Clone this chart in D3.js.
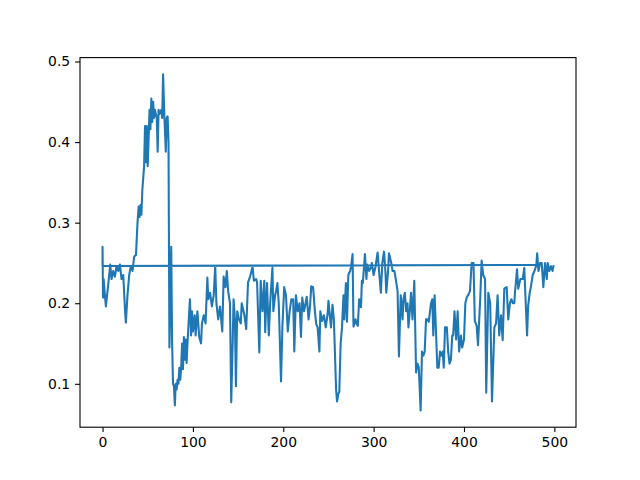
<!DOCTYPE html>
<html>
<head>
<meta charset="utf-8">
<script src="https://cdn.jsdelivr.net/npm/d3@7"></script>
<style>
  html, body { margin: 0; padding: 0; background: #fff; }
  text { font-family: "DejaVu Sans", sans-serif; }
</style>
</head>
<body>
<svg id="chart" width="640" height="480"></svg>
<script>
// Sample positions (x) and values (y), in drawing order.
const xValues = [480, 0,
  0, 0.5, 1.2, 2.6, 3.7, 5.5, 7.4, 8.5, 10, 11.8, 13.7, 15.5, 17.4, 19.2, 21, 22.9, 24.7, 25.8, 27.6, 29.5, 31.3, 33.2, 35, 37, 38.7,
  40, 41, 42, 43, 44, 46, 47, 48, 49, 50, 52, 53, 54, 55, 56, 57, 58, 60, 61, 62, 63, 65, 66, 67, 68.5, 70, 71, 72, 73, 74, 75, 76, 77, 78, 79,
  80, 81, 82, 83, 84, 85, 86, 87, 88, 89, 90, 91, 92, 93, 94, 96.7, 98, 99, 100, 102, 103, 105, 107, 109, 110, 112, 114, 116, 117, 119,
  121, 123, 124.7, 126, 128, 130, 132.5, 134, 136, 137.5, 139, 141, 142.4, 144, 145, 146.5, 147.6, 149, 151, 153, 154, 156, 157, 159,
  161, 163, 166, 167.5, 170, 171, 173.5, 175, 177, 179, 180, 182, 184, 185.5, 188, 189, 191, 192, 193.5, 195, 197.5, 199,
  201, 203, 205, 207, 209, 211, 212.2, 214, 216, 218, 219.6, 221, 223, 226, 228, 229.5, 231, 233, 235, 236.5, 238, 240,
  241, 243, 245, 247, 249, 250, 252.8, 254.5, 256, 258.5, 259.5, 261, 262, 263.5, 265, 266.6, 267.5, 269.3, 270.5, 272, 274, 275, 276.7, 277.7,
  280, 281, 282.5, 284, 286, 287, 288, 290.4, 292, 293, 295, 297, 298, 300, 302, 304.4, 306, 308, 309.6, 311.5, 313, 314, 316, 317, 319.5,
  321, 323, 324.5, 326.5, 328, 330, 332, 333, 334.5, 336, 337.5, 338.5, 340, 341.4, 343, 345, 347, 348.5, 350, 352, 353.5, 355, 356.5, 358, 359.5,
  361, 363.5, 365, 366, 367.5, 369, 370.5, 372, 373.5, 375, 376.5, 377.6, 379, 381, 382.5, 384, 385.5, 387, 388, 389.5, 391.3, 393, 394.6, 396.6, 398,
  400, 401.5, 403, 405, 406.6, 408.5, 410.5, 412, 414, 415.5, 418, 419.5, 421.2, 423.3, 424.6, 426.9, 429, 431, 433.6, 435.5, 437.2, 439,
  441, 442.8, 444.6, 447.2, 449, 450.8, 452.5, 454, 455.7, 456.4, 458.7, 460, 462.4, 465, 466.7, 468.7, 469.8, 471, 472.7, 474, 476, 478,
  480, 481, 482.4, 484.2, 486, 487.8, 489.7, 491.6, 492.7, 494.5, 496.3, 498, 499];
const yValues = [0.2475, 0.2463,
  0.270, 0.207, 0.23, 0.21, 0.196, 0.215, 0.235, 0.248, 0.23, 0.24, 0.233, 0.246, 0.24, 0.248, 0.23, 0.235, 0.195, 0.176, 0.21, 0.235, 0.246, 0.24, 0.258, 0.26, 0.30,
  0.32, 0.307, 0.322, 0.31, 0.34, 0.37, 0.42, 0.375, 0.42, 0.37, 0.44, 0.416, 0.454, 0.425, 0.45, 0.43, 0.44, 0.43, 0.388, 0.44, 0.435, 0.44, 0.43, 0.484, 0.43, 0.388, 0.43, 0.432, 0.40, 0.145, 0.2, 0.27, 0.15, 0.10, 0.097,
  0.073, 0.10, 0.093, 0.105, 0.10, 0.12, 0.105, 0.12, 0.15, 0.118, 0.158, 0.13, 0.155, 0.126, 0.15, 0.205, 0.16, 0.19, 0.165, 0.185, 0.16, 0.19, 0.158, 0.15, 0.175, 0.185, 0.175, 0.232, 0.205, 0.213,
  0.196, 0.21, 0.246, 0.2, 0.18, 0.196, 0.165, 0.233, 0.22, 0.24, 0.215, 0.2, 0.077, 0.15, 0.205, 0.18, 0.097, 0.19, 0.18, 0.175, 0.2, 0.19, 0.185, 0.168,
  0.226, 0.232, 0.245, 0.228, 0.23, 0.226, 0.139, 0.228, 0.19, 0.228, 0.164, 0.225, 0.16, 0.2, 0.244, 0.19, 0.21, 0.215, 0.225, 0.2, 0.103, 0.17,
  0.22, 0.21, 0.165, 0.19, 0.205, 0.205, 0.14, 0.21, 0.19, 0.2, 0.158, 0.207, 0.19, 0.208, 0.18, 0.195, 0.221, 0.22, 0.19, 0.174, 0.17, 0.14,
  0.19, 0.178, 0.185, 0.17, 0.186, 0.203, 0.17, 0.198, 0.18, 0.092, 0.078, 0.088, 0.09, 0.15, 0.17, 0.21, 0.18, 0.225, 0.177, 0.235, 0.24, 0.245, 0.261, 0.171,
  0.18, 0.175, 0.172, 0.205, 0.195, 0.228, 0.225, 0.261, 0.23, 0.248, 0.24, 0.245, 0.25, 0.235, 0.245, 0.263, 0.24, 0.213, 0.25, 0.264, 0.24, 0.213, 0.24, 0.262, 0.25,
  0.24, 0.24, 0.23, 0.215, 0.134, 0.21, 0.18, 0.205, 0.213, 0.19, 0.2, 0.17, 0.19, 0.213, 0.18, 0.228, 0.114, 0.125, 0.12, 0.067, 0.14, 0.135, 0.14, 0.18, 0.18,
  0.177, 0.2, 0.205, 0.16, 0.21, 0.165, 0.12, 0.12, 0.14, 0.135, 0.14, 0.12, 0.17, 0.17, 0.14, 0.125, 0.13, 0.16, 0.16, 0.19, 0.155, 0.19, 0.14, 0.16, 0.145,
  0.155, 0.2, 0.207, 0.211, 0.215, 0.25, 0.25, 0.178, 0.172, 0.148, 0.207, 0.253, 0.235, 0.23, 0.089, 0.213, 0.2, 0.078, 0.17, 0.175, 0.21, 0.16,
  0.185, 0.154, 0.218, 0.22, 0.18, 0.2, 0.205, 0.2, 0.2, 0.213, 0.242, 0.218, 0.23, 0.23, 0.244, 0.19, 0.16, 0.197, 0.213, 0.22, 0.235, 0.24,
  0.247, 0.262, 0.24, 0.25, 0.25, 0.22, 0.25, 0.23, 0.25, 0.24, 0.246, 0.24, 0.246];
const xTicks = [0, 100, 200, 300, 400, 500];
const yTicks = [0.1, 0.2, 0.3, 0.4, 0.5];

const W = 640, H = 480;
const m = { left: 80, right: 576, top: 57.6, bottom: 427.2 };
const svg = d3.select("#chart");
svg.append("rect").attr("width", W).attr("height", H).attr("fill", "#fff");

const data = xValues.map((x, i) => ({ x, y: yValues[i] }));
const xExt = d3.extent(xValues), yExt = d3.extent(yValues);
const xPad = (xExt[1] - xExt[0]) * 0.05, yPad = (yExt[1] - yExt[0]) * 0.05;
const x = d3.scaleLinear().domain([xExt[0] - xPad, xExt[1] + xPad]).range([m.left, m.right]);
const y = d3.scaleLinear().domain([yExt[0] - yPad, yExt[1] + yPad]).range([m.bottom, m.top]);

svg.append("path")
  .datum(data)
  .attr("fill", "none")
  .attr("stroke", "#1f77b4")
  .attr("stroke-width", 2.08)
  .attr("stroke-linejoin", "round")
  .attr("stroke-linecap", "square")
  .attr("d", d3.line().x(d => x(d.x)).y(d => y(d.y)));

const xAxis = svg.append("g").attr("transform", `translate(0,${m.bottom})`)
  .call(d3.axisBottom(x).tickValues(xTicks).tickSize(4.9).tickPadding(4.9).tickFormat(d3.format("d")));
const yAxis = svg.append("g").attr("transform", `translate(${m.left},0)`)
  .call(d3.axisLeft(y).tickValues(yTicks).tickSize(4.9).tickPadding(4.9).tickFormat(d3.format(".1f")));
[xAxis, yAxis].forEach(g => {
  g.select(".domain").remove();
  g.selectAll(".tick line").attr("stroke", "#000").attr("stroke-width", 1.1);
  g.selectAll(".tick text").attr("fill", "#000").style("font-size", "13.9px").style("font-family", "DejaVu Sans");
});

svg.append("rect")
  .attr("x", m.left).attr("y", m.top)
  .attr("width", m.right - m.left).attr("height", m.bottom - m.top)
  .attr("fill", "none").attr("stroke", "#000").attr("stroke-width", 1.1);
</script>
</body>
</html>
